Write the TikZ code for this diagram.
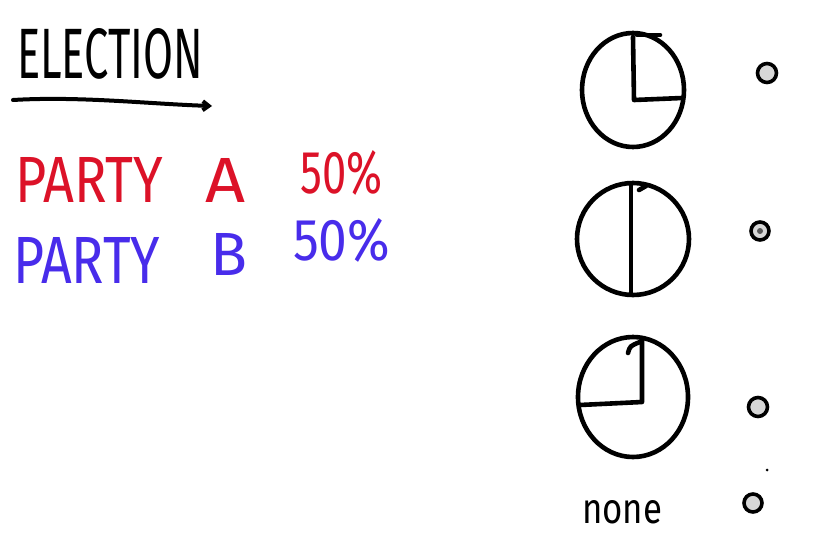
\documentclass[tikz,border=0pt]{standalone}
\usepackage{fontspec}
\usepackage{graphicx}
\setmainfont{Fira Sans}
\usetikzlibrary{arrows.meta}
\definecolor{partyred}{RGB}{220,18,40}
\definecolor{partyblue}{RGB}{72,44,235}
\definecolor{dotgray}{RGB}{215,215,215}
\tikzset{
  ink/.style={line width=4.6pt, line cap=round, line join=round, black},
  txt/.style={inner sep=0pt, anchor=north west},
  radio/.style={line width=3.6pt, draw=black, fill=dotgray, circle, inner sep=0pt},
}
\begin{document}
\begin{tikzpicture}[x=1pt,y=-1pt]
\useasboundingbox[fill=white] (0,0) rectangle (838,546);
% title
\node[txt] (title) at (17,28) {\resizebox{186pt}{50pt}{ELECTION}};
\coordinate (ulA) at (13,100);
\coordinate (ulB) at (212,106);
\draw[ink, line width=4pt, -{Straight Barb[length=6pt,width=9pt]}] (ulA) .. controls (80,96) and (150,104) .. (ulB);
% parties
\node[txt, text=partyred] (pa) at (15,157) {\resizebox{148pt}{45pt}{PARTY}};
\node[txt, text=partyred] (pal) at (205,158) {\resizebox{40pt}{44pt}{A}};
\node[txt, text=partyred] (pap) at (300,150) {\resizebox{82pt}{43pt}{50\%}};
\node[txt, text=partyblue] (pb) at (13,237) {\resizebox{147pt}{46pt}{PARTY}};
\node[txt, text=partyblue] (pbl) at (210,233) {\resizebox{37pt}{42pt}{B}};
\node[txt, text=partyblue] (pbp) at (293,218) {\resizebox{97pt}{42pt}{50\%}};
% pie 1
\coordinate (c1) at (633,90);
\draw[ink] (c1) ellipse [x radius=51, y radius=57];
\coordinate (c1t) at (633,37);
\coordinate (c1m) at (634,100);
\coordinate (c1r) at (682,98);
\draw[ink] (c1t) -- (c1m) -- (c1r);
\draw[ink] (637,35) -- (660,35);
% pie 2
\coordinate (c2) at (633,239);
\draw[ink] (c2) ellipse [x radius=56, y radius=56];
\coordinate (c2t) at (631,184);
\coordinate (c2b) at (631,294);
\draw[ink] (c2t) -- (c2b);
\draw[ink] (639,190) -- (646,186);
% pie 3
\coordinate (c3) at (633,397);
\draw[ink] (c3) ellipse [x radius=55, y radius=60];
\coordinate (c3t) at (642,338);
\coordinate (c3m) at (642,402);
\coordinate (c3l) at (580,405);
\draw[ink] (c3t) -- (c3m) -- (c3l);
\draw[ink] (628,353) .. controls (630,346) .. (640,342);
% none label
\node[txt] (none) at (582,500) {\resizebox{80pt}{23pt}{none}};
% radio buttons
\node[radio, minimum size=19pt] (r1) at (767,73) {};
\node[radio, minimum size=18pt] (r2) at (760,231) {};
\fill[gray!70!black] (r2.center) circle (3pt);
\node[radio, minimum size=19pt] (r3) at (758,407) {};
\node[radio, minimum size=18pt] (r4) at (753,503) {};
\fill[black] (767,470) circle (1.5pt);
\end{tikzpicture}
\end{document}
